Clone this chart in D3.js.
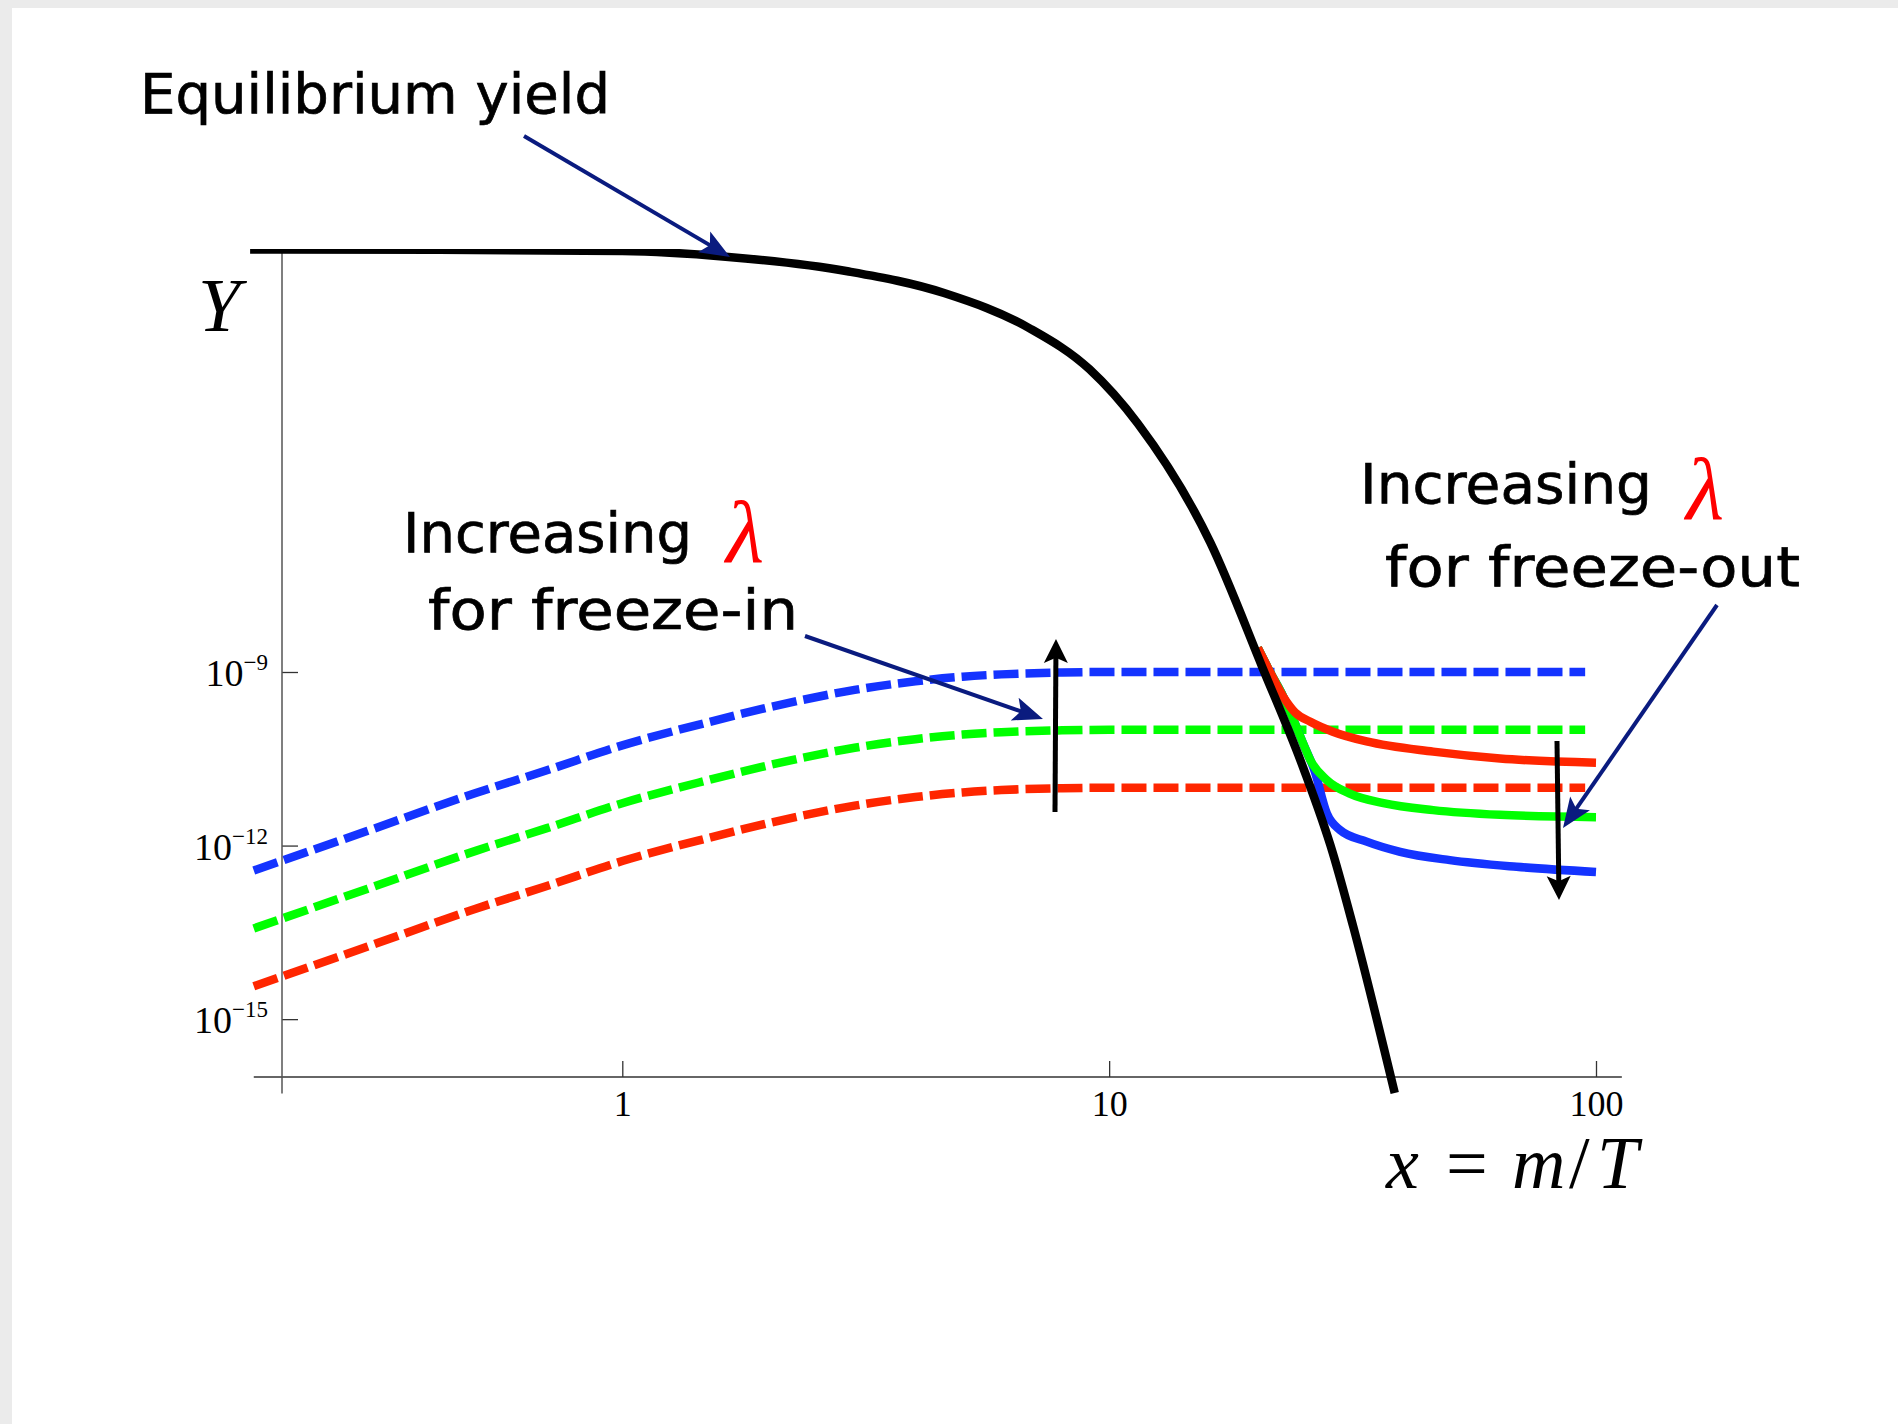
<!DOCTYPE html>
<meta charset="utf-8">
<script src="https://d3js.org/d3.v7.min.js"></script>
<style>
    body { margin: 0; padding: 0; background: #ebebeb; }
    svg { display: block; }
    .note { font-family: 'DejaVu Sans', sans-serif; fill: #000; stroke: #000; stroke-width: 0.7px; }
    .serif { font-family: 'Liberation Serif', 'DejaVu Serif', serif; }
</style>
<body>
<svg width="1898" height="1424"></svg>
<script>

// ---- data ----
// x = m/T, log axis
var xMajorTicks = [1, 10, 100];
var xTickLabels = ["1", "10", "100"];
var xMinorTicks = [0.3, 0.4, 0.5, 0.6, 0.7, 0.8, 0.9, 2, 3, 4, 5, 6, 7, 8, 9, 20, 30, 40, 50, 60, 70, 80, 90];

// Y, log axis
var yMajorTicks = [1e-9, 1e-12, 1e-15];
var yTickExps = ["\u22129", "\u221212", "\u221215"];
var yMinorTicks = [9e-10, 8e-10, 7e-10, 6e-10, 5e-10, 4e-10, 3e-10, 2e-10, 1e-10,
                   9e-13, 8e-13, 7e-13, 6e-13, 5e-13, 4e-13, 3e-13, 2e-13, 1e-13,
                   9e-16, 8e-16, 7e-16, 6e-16, 5e-16, 4e-16, 3e-16, 2e-16];

// axis extents (data units)
var xAxisFrom = 0.175, xAxisTo = 113;
var yAxisFrom = 5.2e-17, yAxisTo = 2.04e-2;

// equilibrium yield (black)
var eqX = [0.172, 0.42, 1, 1.63, 2.9, 4.58, 6.85, 9.11, 11.46, 16.15, 20.67, 25.05, 28.8, 31.7, 38.6];
var eqY = [2.0e-2, 1.98e-2, 1.89e-2, 1.51e-2, 8.45e-3, 3.55e-3, 8.8e-4, 1.71e-4, 1.95e-5, 1.7e-7,
           1.17e-9, 2.19e-11, 7.45e-13, 4.07e-14, 5.3e-17];

// freeze-in (dashed)
var fiX = [0.175, 0.3, 0.5, 0.7, 1, 1.5, 2, 3, 4, 5, 6, 8, 10, 20, 50, 95];
var fiBlue  = [3.7e-13, 1.8e-12, 8.1e-12, 2.0e-11, 5.4e-11, 1.35e-10, 2.45e-10, 4.9e-10, 6.9e-10, 8.3e-10, 9.1e-10, 9.8e-10, 1e-9, 1e-9, 1e-9, 1e-9];
var fiGreen = [3.7e-14, 1.8e-13, 8.1e-13, 2.0e-12, 5.4e-12, 1.35e-11, 2.45e-11, 4.9e-11, 6.9e-11, 8.3e-11, 9.1e-11, 9.8e-11, 1e-10, 1e-10, 1e-10, 1e-10];
var fiRed   = [3.7e-15, 1.8e-14, 8.1e-14, 2.0e-13, 5.4e-13, 1.35e-12, 2.45e-12, 4.9e-12, 6.9e-12, 8.3e-12, 9.1e-12, 9.8e-12, 1e-11, 1e-11, 1e-11, 1e-11];

// freeze-out (solid)
var foRedX = [20.2, 21.4, 22.8, 24.1, 25.9, 28.8, 33.8, 46.3, 63.5, 100];
var foRedY = [2.6e-9, 1.0e-9, 3.7e-10, 2.0e-10, 1.38e-10, 9.3e-11, 6.3e-11, 4.2e-11, 3.2e-11, 2.7e-11];
var foGreenX = [20.2, 21.4, 22.8, 24.0, 25.1, 25.9, 28.0, 31.2, 36.6, 46.3, 63.5, 100];
var foGreenY = [2.6e-9, 1.0e-9, 3.7e-10, 1.38e-10, 5.5e-11, 3.0e-11, 1.35e-11, 7.9e-12, 5.4e-12, 4.1e-12, 3.4e-12, 3.1e-12];
var foBlueX = [20.2, 21.4, 22.8, 24.0, 25.1, 26.4, 28.0, 29.8, 33.8, 39.6, 50.1, 68.7, 100];
var foBlueY = [2.6e-9, 1.0e-9, 3.7e-10, 1.38e-10, 5.5e-11, 2.0e-11, 3.6e-12, 1.86e-12, 1.17e-12, 7.8e-13, 5.6e-13, 4.3e-13, 3.5e-13];

var BLUE = "#1433ff", GREEN = "#00ff00", RED = "#ff2600", NAVY = "#0a1b7f";

// ---- setup ----
var svg = d3.select("svg");

// slide frame: grey edge, white page
svg.append("rect").attr("x", 12).attr("y", 8).attr("width", 1886).attr("height", 1416).attr("fill", "#fff");

var x = d3.scaleLog().domain([0.2, 100]).range([282, 1596]);
var y = d3.scaleLog().domain([1e-16, 1e-9]).range([1077, 672]);

var defs = svg.append("defs");
defs.append("clipPath").attr("id", "plotclip")
    .append("rect")
    .attr("x", 0).attr("y", y(yAxisTo))
    .attr("width", 1898).attr("height", 1424);

function head(id, color, len, wid) {
    defs.append("marker")
        .attr("id", id)
        .attr("markerUnits", "userSpaceOnUse")
        .attr("viewBox", (-len - 1) + " " + (-wid / 2 - 1) + " " + (len + 2) + " " + (wid + 2))
        .attr("markerWidth", len + 2).attr("markerHeight", wid + 2)
        .attr("refX", 0).attr("refY", 0)
        .attr("orient", "auto")
        .append("path")
        .attr("d", "M0,0 L" + (-len) + "," + (-wid / 2) + " L" + (-len * 0.78) + ",0 L" + (-len) + "," + (wid / 2) + " Z")
        .attr("fill", color);
}
head("headNavy", NAVY, 30, 24);
head("headBlack", "#000", 24, 24);

// ---- axes ----
var axes = svg.append("g").attr("class", "axes");

var gx = axes.append("g").attr("transform", "translate(0," + y(1e-16) + ")");
gx.call(d3.axisBottom(x).tickValues(xMinorTicks).tickSize(-5).tickFormat(""));
gx.call(d3.axisBottom(x).tickValues(xMajorTicks).tickSize(-16).tickFormat(function (d, i) { return xTickLabels[i]; }));
gx.selectAll(".domain").remove();
gx.selectAll("line").attr("stroke", "#333").attr("stroke-width", 1.3);
gx.selectAll("text")
    .attr("class", "serif")
    .attr("y", 39).attr("dy", null)
    .attr("font-size", 36).attr("fill", "#000");

var gy = axes.append("g").attr("transform", "translate(" + x(0.2) + ",0)");
gy.call(d3.axisLeft(y).tickValues(yMinorTicks).tickSize(-6).tickFormat(""));
gy.call(d3.axisLeft(y).tickValues(yMajorTicks).tickSize(-16).tickFormat(""));
gy.selectAll(".domain").remove();
gy.selectAll("line").attr("stroke", "#333").attr("stroke-width", 1.3);

// axis lines
axes.append("line")
    .attr("x1", x(xAxisFrom)).attr("x2", x(xAxisTo))
    .attr("y1", y(1e-16)).attr("y2", y(1e-16))
    .attr("stroke", "#333").attr("stroke-width", 1.5);
axes.append("line")
    .attr("x1", x(0.2)).attr("x2", x(0.2))
    .attr("y1", y(yAxisFrom)).attr("y2", y(yAxisTo))
    .attr("stroke", "#555").attr("stroke-width", 1.5);

// y tick labels 10^-n
var ylab = axes.selectAll("text.ylab").data(yMajorTicks).enter()
    .append("text")
    .attr("class", "ylab serif")
    .attr("x", x(0.2) - 14)
    .attr("y", function (d) { return y(d) + 14; })
    .attr("text-anchor", "end")
    .attr("font-size", 38);
ylab.append("tspan").text("10");
ylab.append("tspan")
    .attr("font-size", 23).attr("dy", -16)
    .text(function (d, i) { return yTickExps[i]; });

// axis titles
svg.append("text").attr("class", "serif")
    .attr("x", 198).attr("y", 331)
    .attr("font-size", 76).attr("font-style", "italic")
    .text("Y");

var xt = svg.append("text").attr("class", "serif").attr("y", 1188).attr("font-size", 74);
xt.append("tspan").attr("x", 1386).attr("font-style", "italic").text("x");
xt.append("tspan").attr("x", 1446).text("=");
xt.append("tspan").attr("x", 1512).attr("font-style", "italic").text("m");
xt.append("tspan").attr("x", 1569).text("/");
xt.append("tspan").attr("x", 1597).attr("font-style", "italic").text("T");

// ---- curves ----
function pts(xs, ys) { return xs.map(function (v, i) { return [v, ys[i]]; }); }
var line = d3.line()
    .x(function (d) { return x(d[0]); })
    .y(function (d) { return y(d[1]); })
    .curve(d3.curveMonotoneX);

var curves = svg.append("g").attr("fill", "none");

[[fiBlue, BLUE], [fiGreen, GREEN], [fiRed, RED]].forEach(function (s) {
    curves.append("path")
        .attr("d", line(pts(fiX, s[0])))
        .attr("stroke", s[1])
        .attr("stroke-width", 8.5)
        .attr("stroke-dasharray", "25,7");
});

[[foBlueX, foBlueY, BLUE], [foGreenX, foGreenY, GREEN], [foRedX, foRedY, RED]].forEach(function (s) {
    curves.append("path")
        .attr("d", line(pts(s[0], s[1])))
        .attr("stroke", s[2])
        .attr("stroke-width", 8.5);
});

curves.append("path")
    .attr("d", line(pts(eqX, eqY)))
    .attr("clip-path", "url(#plotclip)")
    .attr("stroke", "#000")
    .attr("stroke-width", 8.5);

// ---- annotations ----
function arrow(x1, y1, x2, y2, color, width, marker, back) {
    var dx = x2 - x1, dy = y2 - y1, L = Math.sqrt(dx * dx + dy * dy);
    svg.append("line")
        .attr("x1", x1).attr("y1", y1)
        .attr("x2", x2 - dx / L * back).attr("y2", y2 - dy / L * back)
        .attr("stroke", color).attr("stroke-width", width);
    svg.append("line")
        .attr("x1", x2 - dx / L * back).attr("y1", y2 - dy / L * back)
        .attr("x2", x2).attr("y2", y2)
        .attr("stroke", "none")
        .attr("marker-end", "url(#" + marker + ")");
}
arrow(524, 136, 730, 257, NAVY, 4, "headNavy", 18);
arrow(805, 636, 1043, 719, NAVY, 4, "headNavy", 18);
arrow(1055, 812, 1056, 639, "#000", 5, "headBlack", 16);
arrow(1717, 605, 1563, 828, NAVY, 4, "headNavy", 18);
arrow(1557, 741, 1559, 900, "#000", 5, "headBlack", 16);

function note(txt, x0, y0, size, len) {
    svg.append("text").attr("class", "note")
        .attr("x", x0).attr("y", y0)
        .attr("font-size", size)
        .attr("textLength", len).attr("lengthAdjust", "spacingAndGlyphs")
        .text(txt);
}
note("Equilibrium yield", 140, 113, 55, 470);
note("Increasing", 403, 552, 56, 289);
note("for freeze-in", 428, 629, 56, 370);
note("Increasing", 1360, 503, 56, 292);
note("for freeze-out", 1385, 586, 56, 415);

svg.append("text").attr("class", "serif")
    .attr("x", 726).attr("y", 562)
    .attr("font-size", 88).attr("font-style", "italic").attr("fill", "#ff0000")
    .text("\u03bb");
svg.append("text").attr("class", "serif")
    .attr("x", 1686).attr("y", 519)
    .attr("font-size", 88).attr("font-style", "italic").attr("fill", "#ff0000")
    .text("\u03bb");

</script>
</body>
